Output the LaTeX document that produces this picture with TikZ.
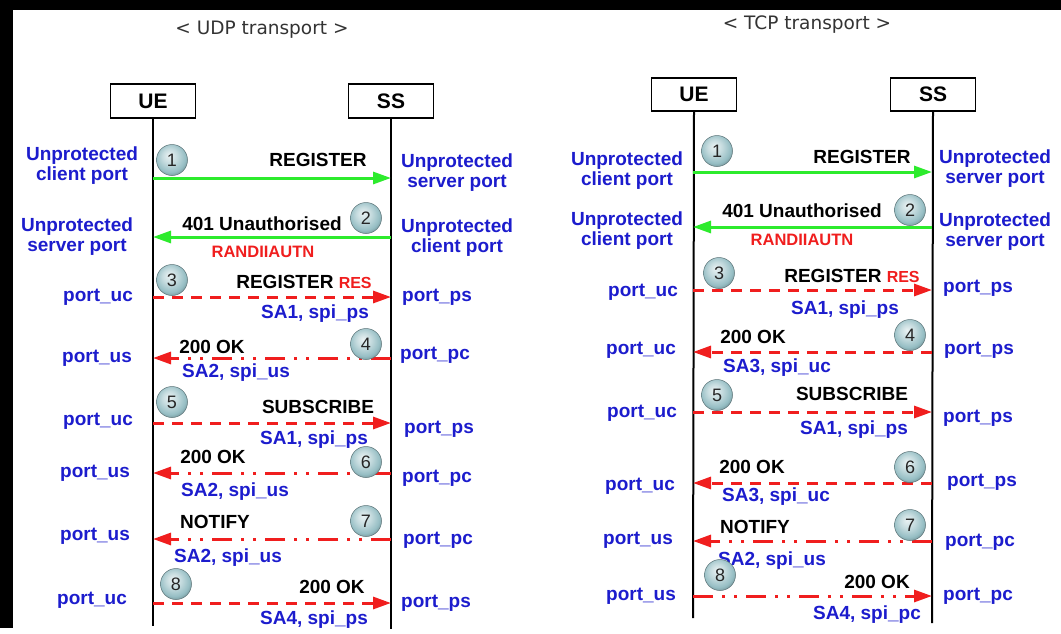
\documentclass[tikz,border=0pt]{standalone}
\usepackage{fontspec}
\setmainfont{Liberation Sans}
\newfontfamily\titlefont{DejaVu Sans}
\usepackage{tikz}
\usetikzlibrary{arrows.meta}

\definecolor{portblue}{RGB}{28,28,205}
\definecolor{msgred}{RGB}{240,30,30}
\definecolor{msggreen}{RGB}{45,235,45}
\definecolor{ballgray}{RGB}{150,190,196}
\pgfdeclareradialshading{stepball}{\pgfpoint{-5bp}{8bp}}{%
  color(0bp)=(ballgray!20!white); color(12bp)=(ballgray!55!white);
  color(24bp)=(ballgray); color(31bp)=(ballgray!75!black); color(50bp)=(ballgray!75!black)}

\tikzset{
  actor/.style={draw, line width=1.3pt, minimum width=85pt, minimum height=34pt, inner sep=0pt,
    font=\fontsize{21}{21}\selectfont\bfseries},
  port/.style={text=portblue, align=center, inner sep=0pt, font=\fontsize{19}{20}\selectfont\bfseries},
  msgtext/.style={inner sep=0pt, font=\fontsize{19}{20}\selectfont\bfseries},
  authtext/.style={text=msgred, inner sep=0pt, font=\fontsize{16.5}{17}\selectfont\bfseries},
  stepnum/.style={circle, shading=stepball, draw=ballgray!60!black, line width=0.5pt,
    minimum size=31pt, inner sep=0pt, text=black!85, font=\fontsize{18}{18}\selectfont},
  heading/.style={inner sep=0pt, text=black!80, font=\titlefont\fontsize{18.5}{19}\selectfont},
  lifeline/.style={line width=2pt},
  msgtip/.style={-{Triangle[length=18pt, width=12pt]}, line width=3pt},
  plainmsg/.style={msgtip, color=msggreen},
  dashmsg/.style={msgtip, color=msgred, dash pattern=on 11pt off 8pt},
  dotmsg/.style={msgtip, color=msgred, dash pattern=on 20pt off 9pt on 3pt off 9pt on 3pt off 9pt},
}
\newcommand{\resmark}{{\color{msgred}\fontsize{16}{16}\selectfont RES}}

\begin{document}
\begin{tikzpicture}[x=1pt, y=-1pt]
\useasboundingbox (0,0) rectangle (1061,633);
\fill[white] (0,0) rectangle (1061,633);
\fill[black] (0,0) rectangle (1061,10);
\fill[black] (0,0) rectangle (13,628);

% UDP transport
\node[heading] (titleL) at (262,30) {< UDP transport >};
\node[actor] (ueL) at (153,101) {UE};
\node[actor] (ssL) at (391,101) {SS};
\coordinate (ueLend) at (153,626);
\coordinate (ssLend) at (391,629);
\draw[lifeline] (ueL.south) -- (ueLend);
\draw[lifeline] (ssL.south) -- (ssLend);
\foreach \i/\y in {1/178, 2/237, 3/297, 4/358, 5/423, 6/473, 7/539, 8/603} {
  \coordinate (uL\i) at (153,\y);
  \coordinate (sL\i) at (391,\y);
}
\draw[plainmsg] (uL1) -- (sL1);
\draw[plainmsg] (sL2) -- (uL2);
\draw[dashmsg] (uL3) -- (sL3);
\draw[dotmsg] (sL4) -- (uL4);
\draw[dashmsg] (uL5) -- (sL5);
\draw[dotmsg] (sL6) -- (uL6);
\draw[dotmsg] (sL7) -- (uL7);
\draw[dashmsg] (uL8) -- (sL8);

\node[port] (uportL1) at (82,166) {Unprotected\\client port};
\node[port] (sportL1) at (457,173) {Unprotected\\server port};
\node[port] (uportL2) at (77,237) {Unprotected\\server port};
\node[port] (sportL2) at (457,238) {Unprotected\\client port};
\node[port] (uportL3) at (98,297) {port\_uc};
\node[port] (sportL3) at (437,297) {port\_ps};
\node[port] (uportL4) at (97,358) {port\_us};
\node[port] (sportL4) at (435,355) {port\_pc};
\node[port] (uportL5) at (98,421) {port\_uc};
\node[port] (sportL5) at (439,429) {port\_ps};
\node[port] (uportL6) at (95,473) {port\_us};
\node[port] (sportL6) at (437,478) {port\_pc};
\node[port] (uportL7) at (95,536) {port\_us};
\node[port] (sportL7) at (438,540) {port\_pc};
\node[port] (uportL8) at (92,600) {port\_uc};
\node[port] (sportL8) at (436,603) {port\_ps};

\node[msgtext] (msgL1) at (318,160) {REGISTER};
\node[msgtext] (msgL2) at (262,224) {401 Unauthorised};
\node[authtext] (authL2) at (263,252) {RANDIIAUTN};
\node[msgtext] (msgL3) at (304,282) {REGISTER \resmark};
\node[port] (saL3) at (315,314) {SA1, spi\_ps};
\node[msgtext] (msgL4) at (212,347) {200 OK};
\node[port] (saL4) at (236,373) {SA2, spi\_us};
\node[msgtext] (msgL5) at (318,407) {SUBSCRIBE};
\node[port] (saL5) at (314,440) {SA1, spi\_ps};
\node[msgtext] (msgL6) at (213,457) {200 OK};
\node[port] (saL6) at (235,492) {SA2, spi\_us};
\node[msgtext] (msgL7) at (215,522) {NOTIFY};
\node[port] (saL7) at (228,558) {SA2, spi\_us};
\node[msgtext] (msgL8) at (332,587) {200 OK};
\node[port] (saL8) at (314,620) {SA4, spi\_ps};

\node[stepnum] (nL1) at (172,160) {1};
\node[stepnum] (nL2) at (366,218) {2};
\node[stepnum] (nL3) at (172,280) {3};
\node[stepnum] (nL4) at (366,344) {4};
\node[stepnum] (nL5) at (172,402) {5};
\node[stepnum] (nL6) at (366,462) {6};
\node[stepnum] (nL7) at (366,521) {7};
\node[stepnum] (nL8) at (176,584) {8};

% TCP transport
\node[heading] (titleR) at (807,25) {< TCP transport >};
\node[actor, minimum height=33pt] (ueR) at (694,94.5) {UE};
\node[actor, minimum height=33pt] (ssR) at (933,94.5) {SS};
\coordinate (ueRend) at (693,618);
\coordinate (ssRend) at (932,623);
\draw[lifeline] (ueR.south) -- (ueRend);
\draw[lifeline] (ssR.south) -- (ssRend);
\foreach \i/\y in {1/172, 2/227, 3/290, 4/352, 5/412, 6/483, 7/541, 8/596} {
  \coordinate (uR\i) at (693,\y);
  \coordinate (sR\i) at (932,\y);
}
\draw[plainmsg] (uR1) -- (sR1);
\draw[plainmsg] (sR2) -- (uR2);
\draw[dashmsg] (uR3) -- (sR3);
\draw[dashmsg] (sR4) -- (uR4);
\draw[dashmsg] (uR5) -- (sR5);
\draw[dashmsg] (sR6) -- (uR6);
\draw[dotmsg] (sR7) -- (uR7);
\draw[dotmsg] (uR8) -- (sR8);

\node[port] (uportR1) at (627,171) {Unprotected\\client port};
\node[port] (sportR1) at (995,169) {Unprotected\\server port};
\node[port] (uportR2) at (627,231) {Unprotected\\client port};
\node[port] (sportR2) at (995,232) {Unprotected\\server port};
\node[port] (uportR3) at (643,292) {port\_uc};
\node[port] (sportR3) at (978,288) {port\_ps};
\node[port] (uportR4) at (641,350) {port\_uc};
\node[port] (sportR4) at (979,350) {port\_ps};
\node[port] (uportR5) at (642,413) {port\_uc};
\node[port] (sportR5) at (978,418) {port\_ps};
\node[port] (uportR6) at (640,486) {port\_uc};
\node[port] (sportR6) at (982,482) {port\_ps};
\node[port] (uportR7) at (638,540) {port\_us};
\node[port] (sportR7) at (980,542) {port\_pc};
\node[port] (uportR8) at (641,596) {port\_us};
\node[port] (sportR8) at (978,596) {port\_pc};

\node[msgtext] (msgR1) at (862,157) {REGISTER};
\node[msgtext] (msgR2) at (802,211) {401 Unauthorised};
\node[authtext] (authR2) at (802,240) {RANDIIAUTN};
\node[msgtext] (msgR3) at (852,276) {REGISTER \resmark};
\node[port] (saR3) at (845,310) {SA1, spi\_ps};
\node[msgtext] (msgR4) at (753,337) {200 OK};
\node[port] (saR4) at (777,368) {SA3, spi\_uc};
\node[msgtext] (msgR5) at (852,394) {SUBSCRIBE};
\node[port] (saR5) at (854,430) {SA1, spi\_ps};
\node[msgtext] (msgR6) at (752,467) {200 OK};
\node[port] (saR6) at (776,497) {SA3, spi\_uc};
\node[msgtext] (msgR7) at (755,527) {NOTIFY};
\node[port] (saR7) at (772,561) {SA2, spi\_us};
\node[msgtext] (msgR8) at (877,582) {200 OK};
\node[port] (saR8) at (867,615) {SA4, spi\_pc};

\node[stepnum] (nR1) at (717,151) {1};
\node[stepnum] (nR2) at (910,210) {2};
\node[stepnum] (nR3) at (719,273) {3};
\node[stepnum] (nR4) at (910,335) {4};
\node[stepnum] (nR5) at (717,395) {5};
\node[stepnum] (nR6) at (910,467) {6};
\node[stepnum] (nR7) at (910,525) {7};
\node[stepnum] (nR8) at (720,575) {8};
\end{tikzpicture}
\end{document}
